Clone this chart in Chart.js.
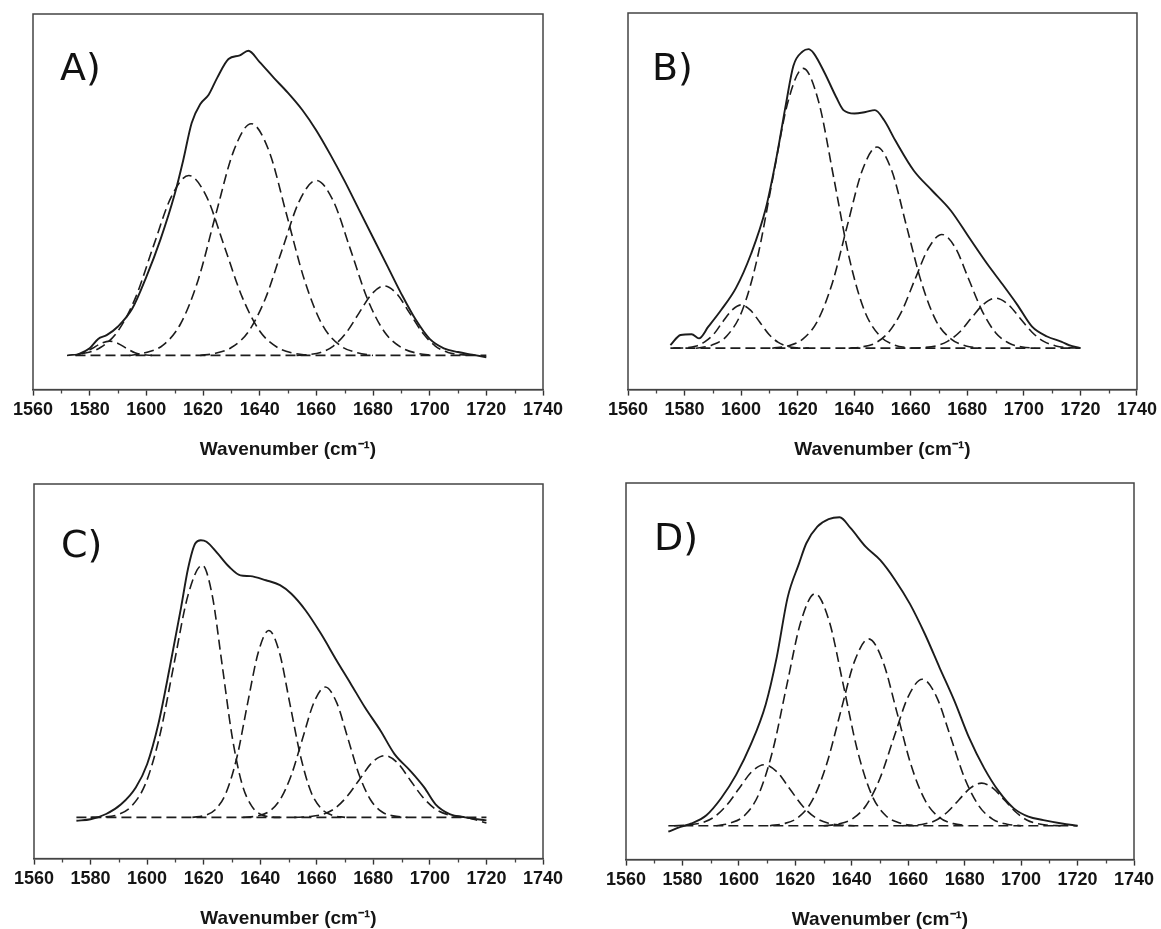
<!DOCTYPE html>
<html>
<head>
<meta charset="utf-8">
<script src="https://cdn.jsdelivr.net/npm/chart.js@4.4.1/dist/chart.umd.min.js"></script>
<style>
  html, body { margin: 0; padding: 0; background: #fff; width: 1161px; height: 929px; overflow: hidden; }
  .panel { position: absolute; height: 470px; }
</style>
</head>
<body>
<div class="panel" style="left:0;top:0;width:580px"><canvas id="chartA"></canvas></div>
<div class="panel" style="left:580px;top:0;width:581px"><canvas id="chartB"></canvas></div>
<div class="panel" style="left:0;top:470px;width:580px"><canvas id="chartC"></canvas></div>
<div class="panel" style="left:580px;top:470px;width:581px"><canvas id="chartD"></canvas></div>
<script>
// axis ticks (wavenumber, cm-1)
const xTickValues = [1560, 1580, 1600, 1620, 1640, 1660, 1680, 1700, 1720, 1740];
const xMinorTicks = [1570, 1590, 1610, 1630, 1650, 1670, 1690, 1710, 1730];
const axisTitle = 'Wavenumber (cm\u207B\u00B9)';

// ---- A) ----
const totalA = [[1575, 9.1], [1580, 11.0], [1583, 13.5], [1586, 14.5], [1590, 16.8], [1595, 21.5], [1600, 30.0],
  [1605, 40.0], [1610, 52.0], [1613, 61.0], [1616, 71.0], [1619, 76.0], [1622, 78.5], [1625, 83.0], [1629, 88.0],
  [1633, 89.0], [1636, 90.2], [1640, 87.2], [1645, 83.0], [1650, 79.0], [1655, 74.5], [1660, 69.0], [1665, 62.5],
  [1670, 55.5], [1675, 48.0], [1680, 40.5], [1685, 33.0], [1690, 25.5], [1695, 18.7], [1700, 13.5], [1705, 11.0],
  [1710, 10.0], [1715, 9.3], [1720, 8.6]];
const baseA = [[1575, 9.1], [1720, 9.1]];
const bandsA = [
  [[1575, 9.2], [1578, 9.8], [1581, 11.0], [1584, 12.3], [1587, 12.9], [1590, 12.3], [1593, 11.0], [1596, 9.8], [1599, 9.3], [1602, 9.1]],
  [[1572, 9.1], [1577.5, 9.6], [1583.8, 11.2], [1590, 15.6], [1596.3, 24.7], [1602.5, 38.2], [1608.8, 51.3], [1615, 57.0],
   [1621.3, 51.3], [1627.5, 38.2], [1633.8, 24.7], [1640, 15.6], [1646.3, 11.2], [1652.5, 9.6], [1658, 9.1]],
  [[1594, 9.1], [1599.5, 9.8], [1605.8, 11.8], [1612, 17.4], [1618.3, 29.2], [1624.5, 46.6], [1630.8, 63.5], [1637, 70.8],
   [1643.3, 63.5], [1649.5, 46.6], [1655.8, 29.2], [1662, 17.4], [1668.3, 11.8], [1674.5, 9.8], [1680, 9.1]],
  [[1619, 9.1], [1624, 9.6], [1630, 11.2], [1636, 15.4], [1642, 24.2], [1648, 37.4], [1654, 50.2], [1660, 55.7],
   [1666, 50.2], [1672, 37.4], [1678, 24.2], [1684, 15.4], [1690, 11.2], [1696, 9.6], [1701, 9.1]],
  [[1653, 9.1], [1657, 9.3], [1661.5, 9.9], [1666, 11.6], [1670.5, 15.1], [1675, 20.3], [1679.5, 25.4], [1684, 27.6],
   [1688.5, 25.4], [1693, 20.3], [1697.5, 15.1], [1702, 11.6], [1706.5, 9.9], [1711, 9.3], [1715, 9.1]]
];

// ---- B) ----
const totalB = [[1575, 11.8], [1578.6, 14.5], [1582.5, 14.7], [1585.1, 13.6], [1588.4, 16.7], [1593, 21.2], [1598.2, 27.0],
  [1603.5, 36.0], [1608.7, 48.0], [1612.6, 62.0], [1615.9, 76.0], [1618.5, 86.0], [1621.8, 89.8], [1623.8, 90.4],
  [1625.7, 89.3], [1629.6, 84.0], [1633.6, 77.7], [1636.2, 74.2], [1640.1, 73.3], [1644, 73.7], [1647.3, 74.2],
  [1650.6, 71.5], [1654.5, 66.2], [1661.1, 58.1], [1667.6, 52.8], [1674.2, 47.5], [1680.7, 40.3], [1687.2, 33.2],
  [1692.5, 27.9], [1697.7, 22.5], [1702.9, 16.7], [1708.2, 14.1], [1713.4, 12.7], [1716, 11.8], [1720, 11.0]];
const baseB = [[1575, 11.0], [1720, 11.0]];
const bandsB = [
  [[1576, 11.0], [1580.5, 11.1], [1583.8, 11.5], [1587, 12.6], [1590.3, 14.7], [1593.5, 18.0], [1596.8, 21.1], [1600, 22.5],
   [1603.3, 21.1], [1606.5, 18.0], [1609.8, 14.7], [1613, 12.6], [1616.3, 11.5], [1619.5, 11.1], [1624, 11.0]],
  [[1584, 11.0], [1589.6, 11.8], [1595, 14.3], [1600.4, 21.0], [1605.8, 35.1], [1611.2, 56.1], [1616.6, 76.5], [1622, 85.3],
   [1627.4, 76.5], [1632.8, 56.1], [1638.2, 35.1], [1643.6, 21.0], [1649, 14.3], [1654.4, 11.8], [1660, 11.0]],
  [[1611, 11.0], [1616.5, 11.6], [1621.8, 13.4], [1627, 18.2], [1632.3, 28.4], [1637.5, 43.4], [1642.8, 58.1], [1648, 64.4],
   [1653.3, 58.1], [1658.5, 43.4], [1663.8, 28.4], [1669, 18.2], [1674.3, 13.4], [1679.5, 11.6], [1685, 11.0]],
  [[1638, 11.0], [1642.5, 11.3], [1647.3, 12.3], [1652, 15.1], [1656.8, 20.8], [1661.5, 29.3], [1666.3, 37.6], [1671, 41.2],
   [1675.8, 37.6], [1680.5, 29.3], [1685.3, 20.8], [1690, 15.1], [1694.8, 12.3], [1699.5, 11.3], [1704, 11.0]],
  [[1660, 11.0], [1664.5, 11.15], [1668.8, 11.6], [1673, 12.8], [1677.3, 15.3], [1681.5, 19.1], [1685.8, 22.7], [1690, 24.3],
   [1694.3, 22.7], [1698.5, 19.1], [1702.8, 15.3], [1707, 12.8], [1711.3, 11.6], [1715.5, 11.15], [1720, 11.0]]
];

// ---- C) ----
const totalC = [[1575, 10.1], [1580, 10.5], [1585.5, 11.9], [1590.8, 14.5], [1596, 19.0], [1600, 25.2], [1604, 36.0],
  [1608, 51.0], [1612, 67.0], [1614.5, 77.5], [1617, 84.1], [1619, 85.0], [1621, 84.6], [1625, 81.4], [1629, 77.9],
  [1633, 75.6], [1636.5, 75.4], [1642, 74.3], [1647, 73.0], [1651, 70.7], [1656, 66.3], [1661.5, 60.0], [1667, 52.9],
  [1672, 46.7], [1677, 40.4], [1682.5, 34.2], [1687.5, 27.9], [1693, 23.5], [1698, 19.0], [1702, 14.5], [1707, 11.9],
  [1712.5, 11.0], [1720, 10.2]];
const baseC = [[1575, 11.0], [1720, 11.0]];
const bandsC = [
  [[1580, 11.0], [1584.5, 11.1], [1589.5, 11.7], [1594.5, 14.0], [1599.5, 20.1], [1604.5, 32.9], [1609.5, 51.9], [1614.5, 70.4],
   [1619.5, 78.3], [1623, 70.4], [1626.5, 51.9], [1630, 32.9], [1633.5, 20.1], [1637, 14.0], [1640.5, 11.7], [1644, 11.1], [1647, 11.0]],
  [[1616, 11.0], [1620.5, 11.55], [1624.3, 13.2], [1628, 17.7], [1631.8, 27.2], [1635.5, 41.3], [1639.3, 55.0], [1643, 60.9],
   [1646.8, 55.0], [1650.5, 41.3], [1654.3, 27.2], [1658, 17.7], [1661.8, 13.2], [1665.5, 11.55], [1670, 11.0]],
  [[1634, 11.0], [1639, 11.4], [1643, 12.5], [1647, 15.7], [1651, 22.3], [1655, 32.1], [1659, 41.7], [1663, 45.8],
   [1667, 41.7], [1671, 32.1], [1675, 22.3], [1679, 15.7], [1683, 12.5], [1687, 11.4], [1692, 11.0]],
  [[1652, 11.0], [1657, 11.2], [1661.5, 11.7], [1666, 13.2], [1670.5, 16.4], [1675, 21.0], [1679.5, 25.6], [1684, 27.5],
   [1688.5, 25.6], [1693, 21.0], [1697.5, 16.4], [1702, 13.2], [1706.5, 11.7], [1711, 11.2], [1715, 10.6], [1720, 9.5]]
];

// ---- D) ----
const totalD = [[1575, 7.4], [1579.3, 8.7], [1583.2, 9.6], [1588.5, 11.8], [1593.7, 16.3], [1599, 22.5], [1604.2, 30.5],
  [1609.5, 41.2], [1613.4, 53.7], [1617.3, 69.7], [1621.3, 78.6], [1623.9, 84.0], [1627.8, 88.4], [1631.8, 90.4],
  [1635.7, 90.9], [1639.6, 88.0], [1644.9, 83.1], [1650.1, 79.5], [1655.4, 74.2], [1660.6, 67.9], [1665.9, 59.9],
  [1671.1, 51.0], [1676.4, 42.1], [1681.6, 32.3], [1686.9, 24.3], [1692.1, 18.1], [1697.4, 13.6], [1702.6, 11.4],
  [1707.9, 10.5], [1714.4, 9.6], [1720, 9.0]];
const baseD = [[1575, 9.0], [1720, 9.0]];
const bandsD = [
  [[1577, 9.0], [1582, 9.2], [1586.5, 9.7], [1591, 11.2], [1595.5, 14.3], [1600, 18.8], [1604.5, 23.3], [1609, 25.2],
   [1613.5, 23.3], [1618, 18.8], [1622.5, 14.3], [1627, 11.2], [1631.5, 9.7], [1636, 9.2], [1641, 9.0]],
  [[1592, 9.0], [1597, 9.7], [1602, 11.7], [1607, 17.3], [1612, 29.0], [1617, 46.4], [1622, 63.3], [1627, 70.6],
   [1632, 63.3], [1637, 46.4], [1642, 29.0], [1647, 17.3], [1652, 11.7], [1657, 9.7], [1662, 9.0]],
  [[1611, 9.0], [1616, 9.55], [1621, 11.2], [1626, 15.7], [1631, 25.1], [1636, 39.1], [1641, 52.7], [1646, 58.6],
   [1651, 52.7], [1656, 39.1], [1661, 25.1], [1666, 15.7], [1671, 11.2], [1676, 9.55], [1681, 9.0]],
  [[1630, 9.0], [1635, 9.4], [1640, 10.7], [1645, 14.3], [1650, 21.6], [1655, 32.6], [1660, 43.3], [1665, 47.9],
   [1670, 43.3], [1675, 32.6], [1680, 21.6], [1685, 14.3], [1690, 10.7], [1695, 9.4], [1700, 9.0]],
  [[1658, 9.0], [1662, 9.1], [1666, 9.5], [1670, 10.5], [1674, 12.7], [1678, 15.9], [1682, 19.0], [1686, 20.3],
   [1690, 19.0], [1694, 15.9], [1698, 12.7], [1702, 10.5], [1706, 9.5], [1710, 9.1], [1714, 9.0]]
];

const ink = '#1c1c1c';

// frame, minor ticks and the panel letter
const panelDecor = {
  id: 'panelDecor',
  afterDraw(chart, args, opts) {
    const { ctx, chartArea: a } = chart;
    const x = chart.scales.x;
    ctx.save();
    ctx.strokeStyle = '#444';
    ctx.lineWidth = 1.5;
    ctx.strokeRect(a.left, a.top, a.right - a.left, a.bottom - a.top);
    ctx.beginPath();
    xMinorTicks.forEach(v => {
      const px = Math.round(x.getPixelForValue(v)) + 0.5;
      ctx.moveTo(px, a.bottom);
      ctx.lineTo(px, a.bottom + 4);
    });
    ctx.lineWidth = 1.3;
    ctx.stroke();
    ctx.fillStyle = '#111';
    ctx.font = '38px "DejaVu Sans"';
    ctx.textBaseline = 'alphabetic';
    ctx.fillText(opts.letter, a.left + opts.dx, opts.baseline);
    ctx.restore();
  }
};

function makePanel(id, total, base, bands, pad, letter, letterDx, letterBase) {
  const datasets = [
    { data: total, borderColor: ink, borderWidth: 1.9 },
    { data: base, borderColor: ink, borderWidth: 1.6, borderDash: [10, 5] }
  ];
  bands.forEach(b => datasets.push({ data: b, borderColor: ink, borderWidth: 1.6, borderDash: [10, 5] }));

  return new Chart(document.getElementById(id), {
    type: 'line',
    data: { datasets: datasets },
    options: {
      responsive: true,
      maintainAspectRatio: false,
      animation: false,
      elements: {
        point: { radius: 0 },
        line: { cubicInterpolationMode: 'monotone', fill: false }
      },
      layout: { padding: pad },
      plugins: {
        legend: { display: false },
        tooltip: { enabled: false },
        panelDecor: { letter: letter, dx: letterDx, baseline: letterBase }
      },
      scales: {
        x: {
          type: 'linear',
          min: 1560,
          max: 1740,
          afterBuildTicks: axis => { axis.ticks = xTickValues.map(v => ({ value: v })); },
          grid: { drawOnChartArea: false, drawTicks: true, tickLength: 6, tickColor: '#333', tickWidth: 1.4 },
          border: { display: true, color: '#444', width: 1.5 },
          ticks: {
            padding: 4,
            color: '#151515',
            maxRotation: 0,
            autoSkip: false,
            callback: v => String(v),
            font: { family: 'Liberation Sans', size: 18, weight: 'bold' }
          },
          title: {
            display: true,
            text: axisTitle,
            color: '#151515',
            padding: { top: 13, bottom: 9 },
            font: { family: 'Liberation Sans', size: 19, weight: 'bold' }
          }
        },
        y: { display: false, min: 0, max: 100 }
      }
    },
    plugins: [panelDecor]
  });
}

makePanel('chartA', totalA, baseA, bandsA, { left: 33, top: 14, right: 37, bottom: 0 }, 'A)', 27, 80);
makePanel('chartB', totalB, baseB, bandsB, { left: 48, top: 13, right: 24, bottom: 0 }, 'B)', 24, 80);
makePanel('chartC', totalC, baseC, bandsC, { left: 34, top: 14, right: 37, bottom: 1 }, 'C)', 27, 87);
makePanel('chartD', totalD, baseD, bandsD, { left: 46, top: 13, right: 27, bottom: 0 }, 'D)', 28, 80);
</script>
</body>
</html>
